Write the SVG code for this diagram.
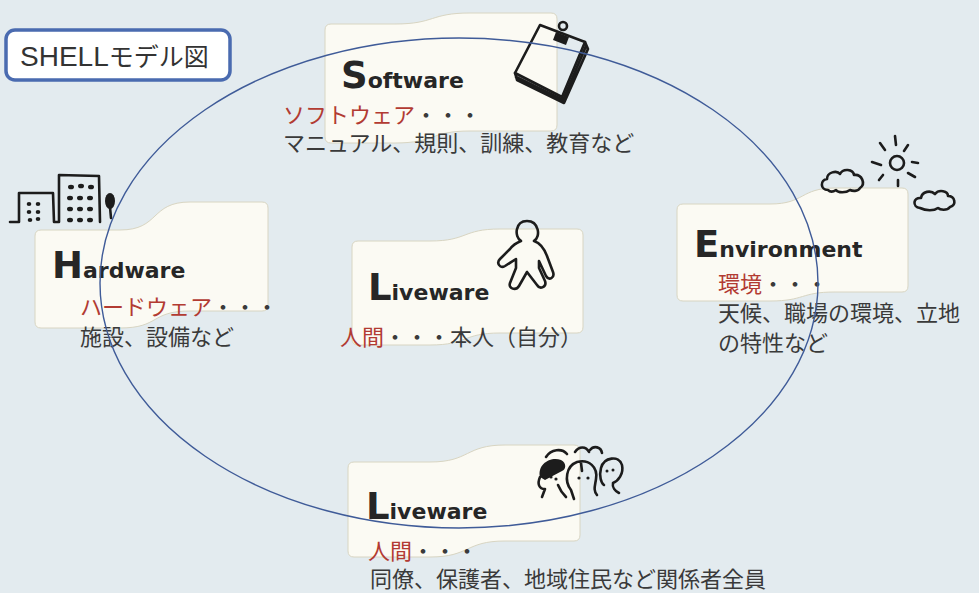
<svg xmlns="http://www.w3.org/2000/svg" width="979" height="593" viewBox="0 0 979 593">
  <defs>
    <style>
      .flag { fill: #fbfaf3; stroke: #d8d5c2; stroke-width: 1; }
      .ink { fill: none; stroke: #1c1c1c; stroke-width: 2.6; stroke-linecap: round; stroke-linejoin: round; }
      .inkfill { fill: #1c1c1c; }
      .title { font-family: "DejaVu Sans", "Liberation Sans", sans-serif; font-weight: bold; fill: #262626; }
      .cap { font-size: 37px; }
      .low { font-size: 22px; }
      .jp { font-family: "Noto Sans CJK JP", "Noto Sans CJK SC", sans-serif; font-size: 22px; fill: #3a3a3a; }
      .red { fill: #b23b32; }
      .dots { fill: #3a3a3a; }
      .ring { fill: none; stroke: #3f5b98; stroke-width: 1.4; }
    </style>
  </defs>

  <!-- page background -->
  <rect x="0" y="0" width="979" height="593" fill="#e3ebef"/>

  <!-- caption box -->
  <g id="caption">
    <rect x="6" y="30" width="224" height="50" rx="9" ry="9" fill="#ffffff" stroke="#4a6bb0" stroke-width="3.5"/>
    <text x="20" y="66" fill="#333333"><tspan font-family="Liberation Sans, Arial, sans-serif" font-size="28">SHELL</tspan><tspan font-family="Noto Sans CJK JP, sans-serif" font-size="25">モデル図</tspan></text>
  </g>

  <!-- S: Software -->
  <g id="software">
    <path class="flag" d="M325,30 Q325,24 331,24 L395,24 C435,24 430,13 470,13 L551,13 Q557,13 557,19 L557,125 Q557,131 551,131 L470,131 C430,131 435,143 395,143 L331,143 Q325,143 325,137 Z"/>
    <!-- notebook with clip -->
    <path d="M515,73 L517,80 L564,103 L588,49 L585,42 L562,97 Z" fill="#9a9a9a"/>
    <polygon class="ink" points="540,25 585,42 562,97 515,73" fill="#ffffff"/>
    <path class="ink" stroke-width="2.2" d="M515,73 L517,80 L564,103 L588,49 L585,42 M516,77 L563,100 L586,46"/>
    <circle class="ink" cx="563" cy="26" r="4" stroke-width="2"/>
    <polygon class="inkfill" points="556,32 569,37 566,45 553,40"/>
    <text class="title" x="341" y="88"><tspan class="cap">S</tspan><tspan class="low">oftware</tspan></text>
    <text class="jp" x="283" y="123"><tspan class="red">ソフトウェア</tspan><tspan class="dots">・・・</tspan></text>
    <text class="jp" x="283" y="151" font-size="23">マニュアル、規則、訓練、教育など</text>
  </g>

  <!-- H: Hardware -->
  <g id="hardware">
    <path class="flag" d="M35,236 Q35,230 41,230 L120,230 C160,230 150,202 190,202 L262,202 Q268,202 268,208 L268,305 Q268,311 262,311 L190,311 C150,311 160,328 120,328 L41,328 Q35,328 35,322 Z"/>
    <!-- buildings -->
    <path class="ink" stroke-width="3" d="M10,222 L19,222 L19,193 L53,193 L54,222 L59,222 L59,175 L99,176 L100,222"/>
    <ellipse class="inkfill" cx="110" cy="201" rx="5" ry="8"/>
    <path class="ink" stroke-width="3" d="M110,207 L111,218"/>
    <g class="inkfill">
      <ellipse cx="29" cy="204" rx="2.3" ry="1.9"/><ellipse cx="38" cy="204" rx="2.3" ry="1.9"/>
      <ellipse cx="29" cy="212" rx="2.3" ry="1.9"/><ellipse cx="38" cy="212" rx="2.3" ry="1.9"/>
      <ellipse cx="30" cy="220" rx="2.3" ry="1.9"/><ellipse cx="38" cy="219" rx="2.3" ry="1.9"/>
      <ellipse cx="71" cy="187" rx="3" ry="2.3"/><ellipse cx="81" cy="186" rx="3" ry="2.3"/><ellipse cx="91" cy="187" rx="3" ry="2.3"/>
      <ellipse cx="70" cy="198" rx="3" ry="2.3"/><ellipse cx="80" cy="198" rx="3" ry="2.3"/><ellipse cx="90" cy="198" rx="3" ry="2.3"/>
      <ellipse cx="70" cy="209" rx="3" ry="2.3"/><ellipse cx="80" cy="209" rx="3" ry="2.3"/><ellipse cx="90" cy="209" rx="3" ry="2.3"/>
      <ellipse cx="70" cy="220" rx="3" ry="2.3"/><ellipse cx="80" cy="220" rx="3" ry="2.3"/><ellipse cx="90" cy="220" rx="3" ry="2.3"/>
    </g>
    <text class="title" x="52" y="278"><tspan class="cap">H</tspan><tspan class="low">ardware</tspan></text>
    <text class="jp" x="80" y="315"><tspan class="red">ハードウェア</tspan><tspan class="dots">・・・</tspan></text>
    <text class="jp" x="80" y="345">施設、設備など</text>
  </g>

  <!-- L: Liveware (self) -->
  <g id="liveware-self">
    <path class="flag" d="M352,247 Q352,241 358,241 L430,241 C468,241 462,229 500,229 L577,229 Q583,229 583,235 L583,327 Q583,333 577,333 L500,333 C462,333 468,345 430,345 L358,345 Q352,345 352,339 Z"/>
    <!-- person outline -->
    <path class="ink" d="M521,241 C514,237 515,221 527,221 C539,221 541,237 534,241 C540,243 544,248 547,256 L553,272 C555,278 549,281 546,276 L539,261 L539,268 L545,281 C547,287 540,290 537,285 L527,272 L519,286 C516,291 508,289 510,283 L516,268 L516,259 L505,266 C500,269 496,263 500,259 L510,249 C513,245 516,243 521,241 Z"/>
    <text class="title" x="368" y="300"><tspan class="cap">L</tspan><tspan class="low">iveware</tspan></text>
    <text class="jp" x="340" y="345"><tspan class="red">人間</tspan>・・・本人（自分）</text>
  </g>

  <!-- E: Environment -->
  <g id="environment">
    <path class="flag" d="M677,210 Q677,204 683,204 L770,204 C805,204 800,188 835,188 L902,188 Q908,188 908,194 L908,286 Q908,292 902,292 L835,292 C800,292 805,301 770,301 L683,301 Q677,301 677,295 Z"/>
    <!-- sun and clouds -->
    <circle class="ink" cx="897" cy="163" r="7"/>
    <path class="ink" d="M895,136 L896,145 M904,151 L908,145 M912,162 L918,163 M908,173 L915,177 M898,180 L898,186 M879,180 L883,175 M872,162 L881,165 M880,143 L885,150"/>
    <path class="ink" d="M828,190 C820,190 820,180 827,179 C827,172 837,170 840,174 C843,168 853,169 854,175 C862,174 866,184 860,188 C858,192 852,191 850,190 C846,193 838,193 836,190 C833,192 830,192 828,190 Z"/>
    <path class="ink" d="M920,208 C912,207 913,197 921,198 C922,191 931,190 935,194 C939,189 948,191 948,196 C955,196 957,205 950,207 C947,211 940,210 938,208 C934,211 926,211 920,208 Z"/>
    <text class="title" x="694" y="257"><tspan class="cap">E</tspan><tspan class="low">nvironment</tspan></text>
    <text class="jp" x="718" y="292"><tspan class="red">環境</tspan><tspan class="dots">・・・</tspan></text>
    <text class="jp" x="718" y="321" font-size="22.6">天候、職場の環境、立地</text>
    <text class="jp" x="718" y="351" font-size="22.6">の特性など</text>
  </g>

  <!-- L: Liveware (others) -->
  <g id="liveware-others">
    <path class="flag" d="M348,468 Q348,462 354,462 L430,462 C470,462 465,445 505,445 L574,445 Q580,445 580,451 L580,535 Q580,541 574,541 L505,541 C465,541 470,557 430,557 L354,557 Q348,557 348,551 Z"/>
    <!-- three faces -->
    <path class="ink" stroke-width="3.4" d="M546,457 C551,449 562,448 567,454"/>
    <path class="inkfill" d="M540,477 C537,464 551,456 561,460 C567,463 566,470 562,471 L545,480 Z"/>
    <path class="ink" stroke-width="3.4" d="M540,477 C537,484 539,489 545,489 L542,497 M558,485 C560,490 562,493 566,497"/>
    <circle class="inkfill" cx="551" cy="477" r="1.6"/><circle class="inkfill" cx="556" cy="479" r="1.6"/>
    <path class="ink" stroke-width="3.4" d="M575,452 C579,446 586,446 589,452 M590,450 C594,445 601,447 602,453"/>
    <path class="ink" stroke-width="3.4" d="M571,490 C564,481 566,466 577,462 C589,459 598,467 596,479 C595,486 593,490 597,495 M571,490 L574,499 M581,463 L582,471"/>
    <circle class="inkfill" cx="579" cy="478" r="1.6"/><circle class="inkfill" cx="588" cy="478" r="1.6"/>
    <path class="ink" stroke-width="3.4" d="M601,468 C604,457 619,455 622,465 C624,474 618,481 613,483 C612,487 615,491 619,493 M601,468 C599,476 601,483 604,485"/>
    <circle class="inkfill" cx="607" cy="471" r="1.5"/><circle class="inkfill" cx="613" cy="470" r="1.5"/>
    <text class="title" x="366" y="519"><tspan class="cap">L</tspan><tspan class="low">iveware</tspan></text>
    <text class="jp" x="368" y="559"><tspan class="red">人間</tspan><tspan class="dots">・・・</tspan></text>
    <text class="jp" x="370" y="587" font-size="22.5">同僚、保護者、地域住民など関係者全員</text>
  </g>

  <!-- connecting ring -->
  <g id="connectors">
    <ellipse class="ring" cx="459" cy="283" rx="359" ry="245"/>
  </g>
</svg>
